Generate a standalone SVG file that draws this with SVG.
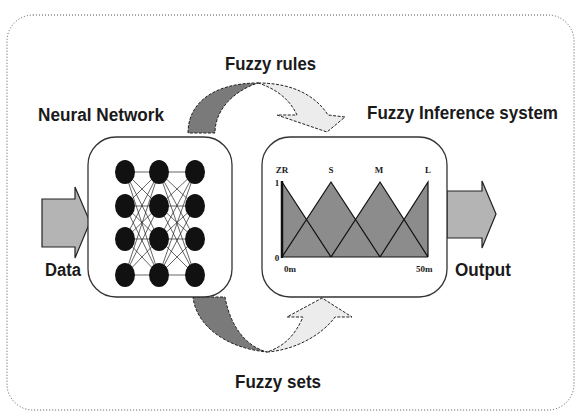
<svg xmlns="http://www.w3.org/2000/svg" width="579" height="415" viewBox="0 0 579 415">
<style>
.lbl{font-family:"Liberation Sans",Arial,sans-serif;font-weight:bold;font-size:18px;fill:#1a1a1a}
.sm{font-family:"Liberation Serif","Times New Roman",serif;font-weight:bold;font-size:9px;fill:#1a1a1a}
.box{fill:#fff;stroke:#333;stroke-width:1.3}
.dk{fill:#7a7a7a;stroke:#222;stroke-width:1;stroke-dasharray:3,1.5}
.lt{fill:#ececec;stroke:#222;stroke-width:1;stroke-dasharray:3,1.5}
.io{fill:#b4b4b4;stroke:#222;stroke-width:1.2}
.node{fill:#111}
.cn{stroke:#222;stroke-width:0.7;fill:none}
.tri{fill:none;stroke:#111;stroke-width:1.2}
</style>
<rect width="579" height="415" fill="#fff"/>
<rect x="7" y="15" width="567" height="395" rx="26" fill="none" stroke="#555" stroke-width="1" stroke-dasharray="1,2"/>

<g id="connectors">
  <!-- Fuzzy rules arrow -->
  <path class="dk" d="M188,133 C188,102 215,83 258,83 C236,90 215,108 215,133 Z"/>
  <path class="lt" d="M258,83 C293,83 316,96 328,115 L345,117 L327,132 L277,115 L297,115 C290,100 277,89 258,83 Z"/>
  <!-- Fuzzy sets arrow -->
  <path class="dk" d="M193,297 L225,297 C230,325 245,346 267,352 C225,348 196,325 193,297 Z"/>
  <path class="lt" d="M267,352 C295,350 322,335 335,317 L352,317 L322,298 L287,317 L303,317 C295,335 285,346 267,352 Z"/>
</g>

<g id="data-arrow">
  <path class="io" d="M42,199 L75,199 L75,187 L90,222 L75,258 L75,247 L42,247 Z"/>
  <text class="lbl" x="45" y="276" textLength="36" lengthAdjust="spacingAndGlyphs">Data</text>
</g>

<g id="output-arrow">
  <path class="io" d="M447,191 L482,191 L482,181 L496,214 L482,248 L482,238 L447,238 Z"/>
  <text class="lbl" x="455" y="276" textLength="56" lengthAdjust="spacingAndGlyphs">Output</text>
</g>

<g id="neural-network">
  <rect class="box" x="88" y="137" width="144" height="160" rx="28"/>
  <g class="cn">
    <path d="M125,172 L159,172 M125,172 L159,206 M125,172 L159,239 M125,172 L159,275
             M125,206 L159,172 M125,206 L159,206 M125,206 L159,239 M125,206 L159,275
             M125,239 L159,172 M125,239 L159,206 M125,239 L159,239 M125,239 L159,275
             M125,275 L159,172 M125,275 L159,206 M125,275 L159,239 M125,275 L159,275
             M159,172 L195,172 M159,172 L195,206 M159,172 L195,239 M159,172 L195,275
             M159,206 L195,172 M159,206 L195,206 M159,206 L195,239 M159,206 L195,275
             M159,239 L195,172 M159,239 L195,206 M159,239 L195,239 M159,239 L195,275
             M159,275 L195,172 M159,275 L195,206 M159,275 L195,239 M159,275 L195,275"/>
  </g>
  <g class="node">
    <ellipse cx="125" cy="172" rx="10" ry="12"/><ellipse cx="125" cy="206" rx="10" ry="12"/>
    <ellipse cx="125" cy="239" rx="10" ry="12"/><ellipse cx="125" cy="275" rx="10" ry="12"/>
    <ellipse cx="159" cy="172" rx="10" ry="12"/><ellipse cx="159" cy="206" rx="10" ry="12"/>
    <ellipse cx="159" cy="239" rx="10" ry="12"/><ellipse cx="159" cy="275" rx="10" ry="12"/>
    <ellipse cx="195" cy="172" rx="10" ry="12"/><ellipse cx="195" cy="206" rx="10" ry="12"/>
    <ellipse cx="195" cy="239" rx="10" ry="12"/><ellipse cx="195" cy="275" rx="10" ry="12"/>
  </g>
  <text class="lbl" x="38" y="121" textLength="126" lengthAdjust="spacingAndGlyphs">Neural Network</text>
</g>

<g id="fuzzy-inference-system">
  <rect class="box" x="262" y="137" width="185" height="160" rx="28"/>
  <path d="M282,182 L306.5,219.5 L331,182 L355.5,219.5 L380,182 L404,219.5 L428,182 L428,257 L282,257 Z" fill="#8c8c8c"/>
  <path class="tri" d="M282,182 L331,257 M282,257 L331,182 L380,257 M331,257 L380,182 L428,257 M380,257 L428,182 L428,257 M282,257 L428,257"/>
  <line x1="282" y1="181" x2="282" y2="258" stroke="#111" stroke-width="2.5"/>
  <text class="sm" x="282" y="173" text-anchor="middle">ZR</text>
  <text class="sm" x="331" y="173" text-anchor="middle">S</text>
  <text class="sm" x="379" y="173" text-anchor="middle">M</text>
  <text class="sm" x="428" y="173" text-anchor="middle">L</text>
  <text class="sm" x="277" y="186" text-anchor="middle">1</text>
  <text class="sm" x="277" y="261" text-anchor="middle">0</text>
  <text class="sm" x="284" y="272">0m</text>
  <text class="sm" x="416" y="272">50m</text>
  <text class="lbl" x="367" y="119" textLength="191" lengthAdjust="spacingAndGlyphs">Fuzzy Inference system</text>
</g>

<g id="fuzzy-rules-label">
  <text class="lbl" x="225" y="70" textLength="91" lengthAdjust="spacingAndGlyphs">Fuzzy rules</text>
</g>
<g id="fuzzy-sets-label">
  <text class="lbl" x="235" y="388" textLength="86" lengthAdjust="spacingAndGlyphs">Fuzzy sets</text>
</g>
</svg>
